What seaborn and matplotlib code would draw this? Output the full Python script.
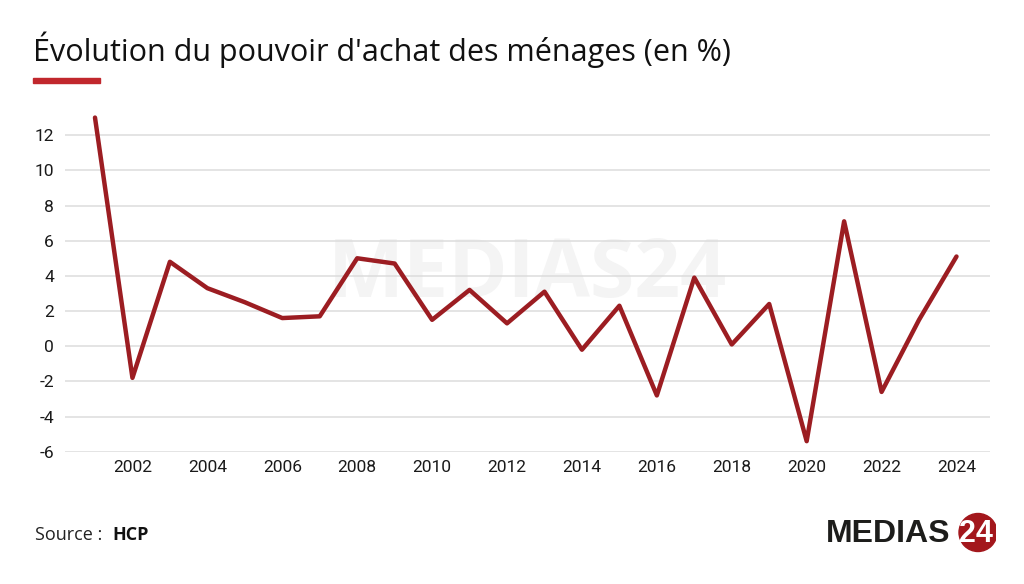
import matplotlib
matplotlib.use("Agg")
import matplotlib.pyplot as plt
import seaborn as sns
import pandas as pd
from matplotlib.patches import Rectangle, Circle

YEARS = list(range(2001, 2025))
VALUES = [13.0, -1.8, 4.8, 3.3, 2.5, 1.6, 1.7, 5.0, 4.7, 1.5, 3.2, 1.3,
          3.1, -0.2, 2.3, -2.8, 3.9, 0.1, 2.4, -5.4, 7.1, -2.6, 1.5, 5.1]
YTICKS = [-6, -4, -2, 0, 2, 4, 6, 8, 10, 12]
XTICKS = list(range(2002, 2025, 2))

LINE_COLOR = "#9c1d22"
ACCENT = "#c1272d"

df = pd.DataFrame({"year": YEARS, "value": VALUES})

sns.set_style("white")
plt.rcParams["font.family"] = ["Roboto", "DejaVu Sans"]

fig = plt.figure(figsize=(10.24, 5.84), dpi=100)
ax = fig.add_axes([0.0635, 0.2265, 0.9035, 0.6023])

# faint watermark behind the line
ax.text(0.5, 0.5, "MEDIAS24", transform=ax.transAxes, ha="center", va="center",
        fontsize=58, fontweight="bold", color="#f4f4f4", zorder=0,
        family=["Open Sans", "DejaVu Sans"])

sns.lineplot(data=df, x="year", y="value", ax=ax, color=LINE_COLOR,
             linewidth=3.2, zorder=3)

ax.set_xlim(2000.2, 2024.9)
ax.set_ylim(-6, 14)
ax.set_yticks(YTICKS)
ax.set_xticks(XTICKS)
ax.set_yticklabels([str(v) for v in YTICKS])
ax.set_xticklabels([str(v) for v in XTICKS])
ax.grid(axis="y", color="#dcdcdc", linewidth=1.1, zorder=1)
ax.set_axisbelow(True)
ax.grid(axis="x", visible=False)
for s in ax.spines.values():
    s.set_visible(False)
ax.tick_params(axis="both", length=0, labelsize=12.5, colors="#1a1a1a")
ax.tick_params(axis="y", pad=8)
ax.tick_params(axis="x", pad=6)
ax.set_xlabel("")
ax.set_ylabel("")

# title and red accent
fig.text(33 / 1024, 1 - 50 / 584, "Évolution du pouvoir d'achat des ménages (en %)",
         fontsize=22, color="#111111", va="center", ha="left",
         family=["Open Sans", "DejaVu Sans"])
fig.patches.append(Rectangle((33 / 1024, 1 - 83 / 584), 67 / 1024, 5 / 584,
                             transform=fig.transFigure, color=ACCENT))

# source
fig.text(35 / 1024, 1 - 535 / 584, "Source :", fontsize=13, color="#222222",
         va="center", ha="left", family=["Open Sans", "DejaVu Sans"])
fig.text(112 / 1024, 1 - 535 / 584, "HCP", fontsize=13, color="#111111",
         fontweight="bold", va="center", ha="left", family=["Open Sans", "DejaVu Sans"])

# logo
logo_ax = fig.add_axes([826 / 1024, 1 - 555 / 584, 170 / 1024, 45 / 584])
logo_ax.set_xlim(0, 170)
logo_ax.set_ylim(0, 45)
logo_ax.set_aspect("equal")
logo_ax.axis("off")
logo_ax.add_patch(Circle((152, 22.5), 19, color="#a3171c"))
logo_ax.text(0, 21, "MEDIAS", fontsize=23, fontweight="bold", color="#1d1d1b",
             va="center", ha="left", family=["Liberation Sans", "DejaVu Sans"])
logo_ax.text(150, 21, "24", fontsize=22, fontweight="bold", color="white",
             va="center", ha="center", family=["Liberation Sans", "DejaVu Sans"])

fig.savefig("out.png", dpi=100, facecolor="white")
